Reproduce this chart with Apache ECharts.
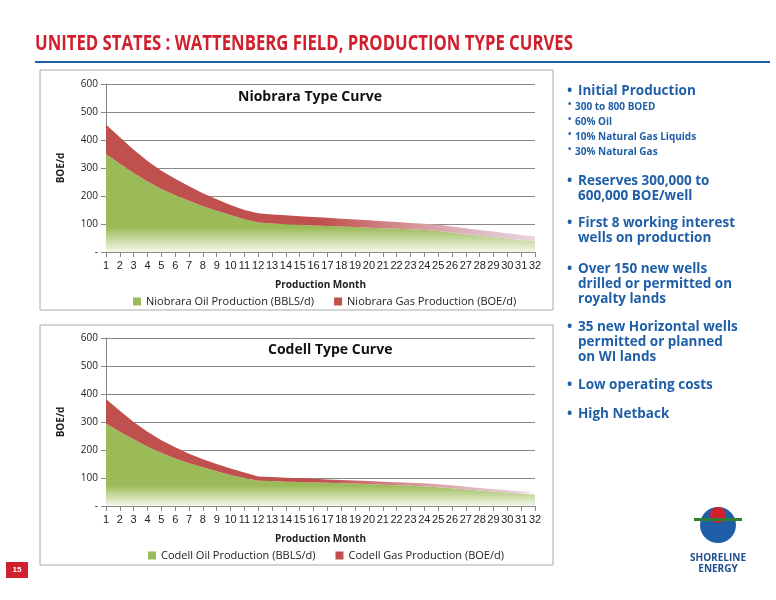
<!DOCTYPE html>
<html><head><meta charset="utf-8">
<script src="https://cdn.jsdelivr.net/npm/echarts@6/dist/echarts.min.js"></script>
<style>html,body{margin:0;padding:0;background:#fff}#c{width:776px;height:600px}</style>
</head><body><div id="c"></div>
<script>
const months = Array.from({length:32},(_,i)=>String(i+1));
const yTicks = ['-','100','200','300','400','500','600'];
const niobraraOil = [350,315,282,252,225,203,183,163,147,132,117,105,102,99,97,95,93,91,89,87,85,83,81,79,75,69,63,58,53,48,43,40];
const niobraraGas = [105,95,83,73,65,59,52,47,41,36,33,33,32,32,31,30,29,28,27,26,25,24,23,22,22,22,22,21,20,19,18,16];
const codellOil = [295,265,238,212,190,170,153,138,124,111,100,90,89,87,86,84,83,81,80,78,76,74,72,70,67,63,59,55,51,48,44,41];
const codellGas = [87,75,62,53,45,40,34,29,26,23,20,15,15,14,13,13,12,12,11,11,11,11,11,11,11,11,10,9,9,8,8,7];
const bullets = [
 ['Initial Production',0],['300 to 800 BOED',1],['60% Oil',1],['10% Natural Gas Liquids',1],['30% Natural Gas',1],
 ['Reserves 300,000 to\n600,000 BOE/well',0],['First 8 working interest\nwells on production',0],['Over 150 new wells\ndrilled or permitted on\nroyalty lands',0],
 ['35 new Horizontal wells\npermitted or planned\non WI lands',0],['Low operating costs',0],['High Netback',0]
];
const bulletY=[92,106,121,136,151,182,224,270,328,386,415];
const chart = echarts.init(document.getElementById('c'));
const green = {type:'linear',x:0,y:0,x2:0,y2:1,colorStops:[{offset:0,color:'#9bbb59'},{offset:0.75,color:'#9bbb59'},{offset:1,color:'#f4f8ec'}]};
const red = {type:'linear',x:0,y:0,x2:1,y2:0,colorStops:[{offset:0,color:'#c0504d'},{offset:0.5,color:'#c0504d'},{offset:0.75,color:'#d9a0a6'},{offset:1,color:'#e6d6e0'}]};
function grid(top){return {left:106,right:241,top:top,height:168};}
function xAxis(i){return {type:'category',gridIndex:i,data:months,boundaryGap:false,
  name:'Production Month',nameLocation:'middle',nameGap:28,nameTextStyle:{fontSize:10,fontWeight:'bold',color:'#222'},
  axisLine:{lineStyle:{color:'#888'}},axisTick:{show:true,lineStyle:{color:'#888'}},
  axisLabel:{color:'#222',fontSize:11,interval:0,margin:8,fontWeight:'normal',fontFamily:'"Liberation Sans Narrow",sans-serif'}};}
function yAxis(i){return {type:'value',gridIndex:i,min:0,max:600,interval:100,
  name:'BOE/d',nameLocation:'middle',nameGap:40,nameTextStyle:{fontSize:10,fontWeight:'bold',color:'#222'},
  axisLine:{show:true,lineStyle:{color:'#888'}},axisTick:{show:true,lineStyle:{color:'#888'}},
  axisLabel:{color:'#222',fontSize:10,formatter:v=>yTicks[v/100]},splitLine:{lineStyle:{color:'#888'}}};}
function area(name,data,i,color,legendColor){return {name:name,type:'line',xAxisIndex:i,yAxisIndex:i,stack:'s'+i,data:data,
  symbol:'none',lineStyle:{width:0},areaStyle:{color:color,opacity:1},itemStyle:{color:legendColor}};}
const graphics=[
 {type:'text',x:35,y:33,scaleX:0.76,style:{text:'UNITED STATES : WATTENBERG FIELD, PRODUCTION TYPE CURVES',fill:'#d0202e',font:'bold 22px "Open Sans", sans-serif'}},
 {type:'rect',shape:{x:35,y:61,width:735,height:2},style:{fill:'#1f5fa8'}},
 {type:'rect',shape:{x:40,y:70,width:513,height:240},style:{fill:'none',stroke:'#aaa',lineWidth:1}},
 {type:'rect',shape:{x:40,y:325,width:513,height:240},style:{fill:'none',stroke:'#aaa',lineWidth:1}},
 {type:'text',left:238,top:90,style:{text:'Niobrara Type Curve',fill:'#111',font:'bold 14px "Open Sans", sans-serif'}},
 {type:'text',left:268,top:343,style:{text:'Codell Type Curve',fill:'#111',font:'bold 14px "Open Sans", sans-serif'}},
 {type:'rect',shape:{x:6,y:562,width:22,height:16},style:{fill:'#d0202e'}},
 {type:'text',x:17,y:570,style:{text:'15',fill:'#fff',font:'bold 8px sans-serif',align:'center',verticalAlign:'middle'}},
 {type:'circle',shape:{cx:718,cy:525,r:18},style:{fill:'#1f5fa8'}},
 {type:'circle',shape:{cx:718,cy:515,r:8},style:{fill:'#d0202e'}},
 {type:'rect',shape:{x:694,y:518,width:48,height:3},style:{fill:'#2e7d32'}},
 {type:'text',x:718,y:553,style:{text:'SHORELINE\nENERGY',fill:'#1f4e8c',font:'bold 10px "Open Sans", sans-serif',align:'center',lineHeight:11}}
];
bullets.forEach((b,k)=>{
  const sub=b[1]===1;
  graphics.push({type:'text',left:sub?568:567,top:bulletY[k]-(sub?6:8),style:{text:'•',fill:'#1f5fa8',font:(sub?'bold 9px':'bold 14px')+' "Open Sans", sans-serif'}});
  graphics.push({type:'text',left:sub?575:578,top:bulletY[k]-(sub?6:8),style:{text:b[0],fill:'#1f5fa8',lineHeight:15,font:(sub?'bold 10px':'bold 13.5px')+' "Open Sans", sans-serif'}});
});
chart.setOption({
  animation:false,
  textStyle:{fontFamily:'"Open Sans", sans-serif'},
  grid:[grid(84),grid(338)],
  xAxis:[xAxis(0),xAxis(1)],
  yAxis:[yAxis(0),yAxis(1)],
  legend:[
    {data:['Niobrara Oil Production (BBLS/d)','Niobrara Gas Production (BOE/d)'],left:128,top:291,itemWidth:8,itemHeight:8,itemGap:20,icon:'rect',textStyle:{fontSize:11,color:'#222'}},
    {data:['Codell Oil Production (BBLS/d)','Codell Gas Production (BOE/d)'],left:143,top:545,itemWidth:8,itemHeight:8,itemGap:20,icon:'rect',textStyle:{fontSize:11,color:'#222'}}
  ],
  graphic:graphics,
  series:[
    area('Niobrara Oil Production (BBLS/d)',niobraraOil,0,green,'#9bbb59'),
    area('Niobrara Gas Production (BOE/d)',niobraraGas,0,red,'#c0504d'),
    area('Codell Oil Production (BBLS/d)',codellOil,1,green,'#9bbb59'),
    area('Codell Gas Production (BOE/d)',codellGas,1,red,'#c0504d')
  ]
});
</script></body></html>
